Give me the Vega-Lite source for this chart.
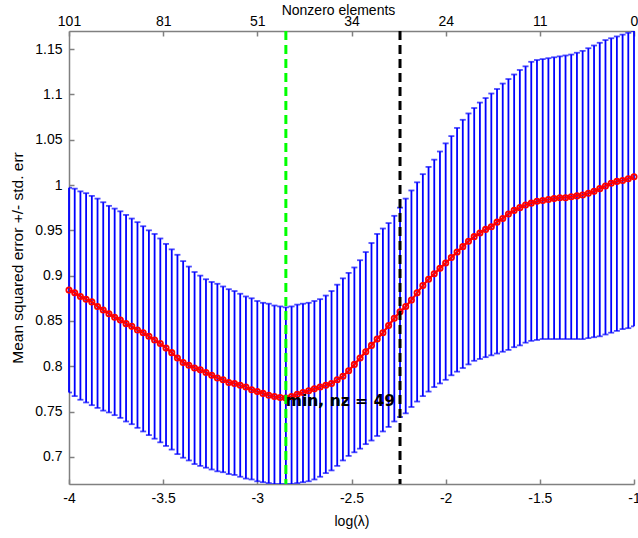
{
  "$schema": "https://vega.github.io/schema/vega-lite/v6.json",
  "width": 565,
  "height": 453,
  "autosize": {"type": "none"},
  "padding": {"left": 69, "top": 31, "right": 4, "bottom": 54},
  "background": "white",
  "config": {
    "view": {"stroke": null},
    "font": "Liberation Sans",
    "axis": {
      "labelFont": "Liberation Sans",
      "titleFont": "Liberation Sans",
      "labelFontSize": 14,
      "titleFontSize": 14,
      "labelColor": "#000000",
      "titleColor": "#000000",
      "titleFontWeight": "normal",
      "domainColor": "#808080",
      "tickColor": "#808080",
      "domainWidth": 1.5,
      "tickWidth": 1.5,
      "grid": false
    }
  },
  "datasets": {
    "cv": [
      {"x": -4.0, "m": 0.884, "lo": 0.771, "hi": 0.997},
      {"x": -3.9697, "m": 0.881, "lo": 0.767, "hi": 0.996},
      {"x": -3.9394, "m": 0.877, "lo": 0.763, "hi": 0.993},
      {"x": -3.9091, "m": 0.874, "lo": 0.760, "hi": 0.991},
      {"x": -3.8788, "m": 0.871, "lo": 0.757, "hi": 0.988},
      {"x": -3.8485, "m": 0.866, "lo": 0.754, "hi": 0.985},
      {"x": -3.8182, "m": 0.862, "lo": 0.751, "hi": 0.981},
      {"x": -3.7879, "m": 0.858, "lo": 0.749, "hi": 0.977},
      {"x": -3.7576, "m": 0.854, "lo": 0.746, "hi": 0.974},
      {"x": -3.7273, "m": 0.851, "lo": 0.743, "hi": 0.971},
      {"x": -3.6970, "m": 0.847, "lo": 0.739, "hi": 0.967},
      {"x": -3.6667, "m": 0.844, "lo": 0.736, "hi": 0.963},
      {"x": -3.6364, "m": 0.840, "lo": 0.732, "hi": 0.959},
      {"x": -3.6061, "m": 0.837, "lo": 0.728, "hi": 0.9545},
      {"x": -3.5758, "m": 0.833, "lo": 0.724, "hi": 0.950},
      {"x": -3.5455, "m": 0.829, "lo": 0.720, "hi": 0.946},
      {"x": -3.5152, "m": 0.825, "lo": 0.716, "hi": 0.941},
      {"x": -3.4848, "m": 0.820, "lo": 0.712, "hi": 0.935},
      {"x": -3.4545, "m": 0.815, "lo": 0.708, "hi": 0.929},
      {"x": -3.4242, "m": 0.809, "lo": 0.703, "hi": 0.923},
      {"x": -3.3939, "m": 0.804, "lo": 0.699, "hi": 0.916},
      {"x": -3.3636, "m": 0.801, "lo": 0.696, "hi": 0.910},
      {"x": -3.3333, "m": 0.798, "lo": 0.692, "hi": 0.904},
      {"x": -3.3030, "m": 0.796, "lo": 0.690, "hi": 0.900},
      {"x": -3.2727, "m": 0.793, "lo": 0.688, "hi": 0.896},
      {"x": -3.2424, "m": 0.790, "lo": 0.686, "hi": 0.893},
      {"x": -3.2121, "m": 0.787, "lo": 0.684, "hi": 0.891},
      {"x": -3.1818, "m": 0.785, "lo": 0.683, "hi": 0.888},
      {"x": -3.1515, "m": 0.782, "lo": 0.681, "hi": 0.885},
      {"x": -3.1212, "m": 0.781, "lo": 0.680, "hi": 0.883},
      {"x": -3.0909, "m": 0.779, "lo": 0.678, "hi": 0.880},
      {"x": -3.0606, "m": 0.777, "lo": 0.676, "hi": 0.877},
      {"x": -3.0303, "m": 0.774, "lo": 0.675, "hi": 0.875},
      {"x": -3.0000, "m": 0.772, "lo": 0.673, "hi": 0.872},
      {"x": -2.9697, "m": 0.770, "lo": 0.672, "hi": 0.870},
      {"x": -2.9394, "m": 0.768, "lo": 0.671, "hi": 0.869},
      {"x": -2.9091, "m": 0.7665, "lo": 0.670, "hi": 0.867},
      {"x": -2.8788, "m": 0.7655, "lo": 0.670, "hi": 0.866},
      {"x": -2.8485, "m": 0.765, "lo": 0.670, "hi": 0.865},
      {"x": -2.8182, "m": 0.7665, "lo": 0.670, "hi": 0.866},
      {"x": -2.7879, "m": 0.769, "lo": 0.671, "hi": 0.868},
      {"x": -2.7576, "m": 0.771, "lo": 0.672, "hi": 0.869},
      {"x": -2.7273, "m": 0.773, "lo": 0.673, "hi": 0.870},
      {"x": -2.6970, "m": 0.775, "lo": 0.675, "hi": 0.872},
      {"x": -2.6667, "m": 0.777, "lo": 0.678, "hi": 0.874},
      {"x": -2.6364, "m": 0.779, "lo": 0.682, "hi": 0.878},
      {"x": -2.6061, "m": 0.781, "lo": 0.685, "hi": 0.883},
      {"x": -2.5758, "m": 0.785, "lo": 0.690, "hi": 0.890},
      {"x": -2.5455, "m": 0.789, "lo": 0.696, "hi": 0.897},
      {"x": -2.5152, "m": 0.795, "lo": 0.701, "hi": 0.903},
      {"x": -2.4848, "m": 0.802, "lo": 0.705, "hi": 0.909},
      {"x": -2.4545, "m": 0.809, "lo": 0.709, "hi": 0.917},
      {"x": -2.4242, "m": 0.816, "lo": 0.714, "hi": 0.926},
      {"x": -2.3939, "m": 0.823, "lo": 0.718, "hi": 0.936},
      {"x": -2.3636, "m": 0.830, "lo": 0.723, "hi": 0.946},
      {"x": -2.3333, "m": 0.837, "lo": 0.728, "hi": 0.952},
      {"x": -2.3030, "m": 0.845, "lo": 0.733, "hi": 0.958},
      {"x": -2.2727, "m": 0.853, "lo": 0.739, "hi": 0.966},
      {"x": -2.2424, "m": 0.860, "lo": 0.744, "hi": 0.975},
      {"x": -2.2121, "m": 0.866, "lo": 0.748, "hi": 0.985},
      {"x": -2.1818, "m": 0.873, "lo": 0.755, "hi": 0.994},
      {"x": -2.1515, "m": 0.881, "lo": 0.761, "hi": 1.003},
      {"x": -2.1212, "m": 0.889, "lo": 0.767, "hi": 1.012},
      {"x": -2.0909, "m": 0.896, "lo": 0.772, "hi": 1.020},
      {"x": -2.0606, "m": 0.902, "lo": 0.777, "hi": 1.028},
      {"x": -2.0303, "m": 0.908, "lo": 0.781, "hi": 1.037},
      {"x": -2.0000, "m": 0.914, "lo": 0.785, "hi": 1.046},
      {"x": -1.9697, "m": 0.920, "lo": 0.790, "hi": 1.054},
      {"x": -1.9394, "m": 0.926, "lo": 0.794, "hi": 1.063},
      {"x": -1.9091, "m": 0.932, "lo": 0.798, "hi": 1.072},
      {"x": -1.8788, "m": 0.938, "lo": 0.802, "hi": 1.079},
      {"x": -1.8485, "m": 0.943, "lo": 0.806, "hi": 1.085},
      {"x": -1.8182, "m": 0.947, "lo": 0.808, "hi": 1.091},
      {"x": -1.7879, "m": 0.951, "lo": 0.810, "hi": 1.096},
      {"x": -1.7576, "m": 0.954, "lo": 0.812, "hi": 1.101},
      {"x": -1.7273, "m": 0.959, "lo": 0.814, "hi": 1.106},
      {"x": -1.6970, "m": 0.963, "lo": 0.816, "hi": 1.112},
      {"x": -1.6667, "m": 0.968, "lo": 0.818, "hi": 1.117},
      {"x": -1.6364, "m": 0.972, "lo": 0.821, "hi": 1.122},
      {"x": -1.6061, "m": 0.975, "lo": 0.823, "hi": 1.127},
      {"x": -1.5758, "m": 0.978, "lo": 0.826, "hi": 1.131},
      {"x": -1.5455, "m": 0.980, "lo": 0.828, "hi": 1.136},
      {"x": -1.5152, "m": 0.982, "lo": 0.829, "hi": 1.138},
      {"x": -1.4848, "m": 0.983, "lo": 0.830, "hi": 1.139},
      {"x": -1.4545, "m": 0.984, "lo": 0.830, "hi": 1.140},
      {"x": -1.4242, "m": 0.985, "lo": 0.830, "hi": 1.141},
      {"x": -1.3939, "m": 0.986, "lo": 0.830, "hi": 1.142},
      {"x": -1.3636, "m": 0.986, "lo": 0.830, "hi": 1.143},
      {"x": -1.3333, "m": 0.987, "lo": 0.830, "hi": 1.144},
      {"x": -1.3030, "m": 0.988, "lo": 0.830, "hi": 1.146},
      {"x": -1.2727, "m": 0.989, "lo": 0.830, "hi": 1.148},
      {"x": -1.2424, "m": 0.991, "lo": 0.831, "hi": 1.151},
      {"x": -1.2121, "m": 0.993, "lo": 0.832, "hi": 1.154},
      {"x": -1.1818, "m": 0.996, "lo": 0.833, "hi": 1.157},
      {"x": -1.1515, "m": 0.999, "lo": 0.835, "hi": 1.160},
      {"x": -1.1212, "m": 1.002, "lo": 0.837, "hi": 1.162},
      {"x": -1.0909, "m": 1.004, "lo": 0.839, "hi": 1.164},
      {"x": -1.0606, "m": 1.005, "lo": 0.841, "hi": 1.166},
      {"x": -1.0303, "m": 1.007, "lo": 0.842, "hi": 1.168},
      {"x": -1.0, "m": 1.009, "lo": 0.844, "hi": 1.170}
    ]
  },
  "resolve": {"axis": {"x": "independent", "y": "independent"}},
  "layer": [
    {
      "data": {"name": "cv"},
      "mark": {"type": "rule", "color": "#0000ff", "strokeWidth": 1.8},
      "encoding": {
        "x": {
          "field": "x", "type": "quantitative",
          "scale": {"domain": [-4, -1], "nice": false, "zero": false},
          "axis": {
            "orient": "bottom",
            "title": "log(λ)",
            "values": [-4, -3.5, -3, -2.5, -2, -1.5, -1],
            "labelExpr": "'' + datum.value",
            "tickSize": -5,
            "labelPadding": 12,
            "titlePadding": 9,
            "labelFlush": false
          }
        },
        "y": {
          "field": "lo", "type": "quantitative",
          "scale": {"domain": [0.67, 1.17], "nice": false, "zero": false},
          "axis": {
            "orient": "left",
            "title": "Mean squared error +/- std. err",
            "titleFontSize": 15.5,
            "values": [0.7, 0.75, 0.8, 0.85, 0.9, 0.95, 1, 1.05, 1.1, 1.15],
            "format": ".3~g",
            "tickSize": -5,
            "labelPadding": 12,
            "titlePadding": 9,
            "labelFlush": false
          }
        },
        "y2": {"field": "hi"}
      }
    },
    {
      "data": {"name": "cv"},
      "mark": {"type": "tick", "color": "#0000ff", "orient": "horizontal", "size": 6, "thickness": 1.8, "clip": true},
      "encoding": {
        "x": {
          "field": "x", "type": "quantitative",
          "axis": {
            "orient": "top",
            "title": "Nonzero elements",
            "values": [-4, -3.5, -3, -2.5, -2, -1.5, -1],
            "labelExpr": "datum.value == -4 ? '101' : datum.value == -3.5 ? '81' : datum.value == -3 ? '51' : datum.value == -2.5 ? '34' : datum.value == -2 ? '24' : datum.value == -1.5 ? '11' : '0'",
            "tickSize": -5,
            "labelPadding": 8,
            "titleX": 269,
            "titleY": -17,
            "titleBaseline": "alphabetic",
            "titleAlign": "center",
            "labelFlush": false
          }
        },
        "y": {"field": "hi", "type": "quantitative", "axis": null}
      }
    },
    {
      "data": {"name": "cv"},
      "mark": {"type": "tick", "color": "#0000ff", "orient": "horizontal", "size": 6, "thickness": 1.8, "clip": true},
      "encoding": {
        "x": {"field": "x", "type": "quantitative", "axis": null},
        "y": {"field": "lo", "type": "quantitative", "axis": null}
      }
    },
    {
      "data": {"name": "cv"},
      "mark": {"type": "line", "color": "#ff0000", "strokeWidth": 2.2},
      "encoding": {
        "x": {"field": "x", "type": "quantitative", "axis": null},
        "y": {"field": "m", "type": "quantitative", "axis": null}
      }
    },
    {
      "data": {"name": "cv"},
      "mark": {"type": "point", "shape": "circle", "filled": false, "color": "#ff0000", "size": 28, "strokeWidth": 1.8, "opacity": 1},
      "encoding": {
        "x": {"field": "x", "type": "quantitative", "axis": null},
        "y": {"field": "m", "type": "quantitative", "axis": null}
      }
    },
    {
      "data": {"values": [{"lx": -2.8485}]},
      "mark": {"type": "rule", "color": "#00ff00", "strokeWidth": 3, "strokeDash": [9, 5]},
      "encoding": {
        "x": {"field": "lx", "type": "quantitative", "axis": null}
      }
    },
    {
      "data": {"values": [{"lx": -2.2424}]},
      "mark": {"type": "rule", "color": "#000000", "strokeWidth": 3, "strokeDash": [9, 5]},
      "encoding": {
        "x": {"field": "lx", "type": "quantitative", "axis": null}
      }
    },
    {
      "data": {"values": [{"lx": -2.8485, "v": 0.765, "label": "min, nz = 49"}]},
      "mark": {"type": "text", "align": "left", "baseline": "middle", "font": "DejaVu Sans", "fontSize": 15.5, "fontWeight": "bold", "color": "#000000", "dy": 3},
      "encoding": {
        "x": {"field": "lx", "type": "quantitative", "axis": null},
        "y": {"field": "v", "type": "quantitative", "axis": null},
        "text": {"field": "label"}
      }
    }
  ]
}
